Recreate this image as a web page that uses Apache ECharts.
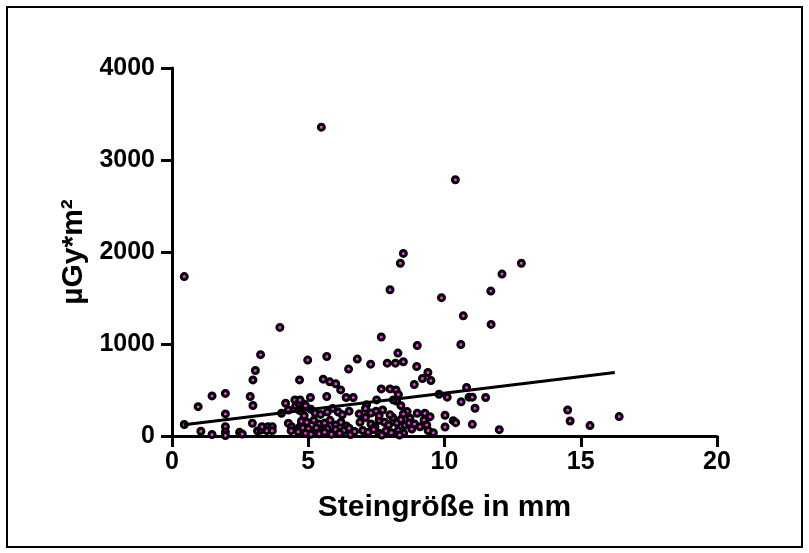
<!DOCTYPE html>
<html>
<head>
<meta charset="utf-8">
<script src="https://cdn.jsdelivr.net/npm/echarts@6/dist/echarts.min.js"></script>
<style>
  html, body { margin: 0; padding: 0; background: #fff; }
  #chartmain { width: 809px; height: 553px; }
</style>
</head>
<body>
<div id="chartmain"></div>
<script>
// stone size (mm) against dose area product (µGy*m²)
var upperPoints = [
	[0.45, 1733], [5.48, 3357], [10.40, 2785], [8.49, 1985], [8.38, 1878], [8.0, 1590],
	[9.89, 1504], [12.82, 1878], [12.11, 1760], [11.70, 1575], [10.69, 1306], [11.71, 1213],
	[10.6, 995], [3.96, 1180], [7.68, 1076], [9.0, 984], [8.29, 901], [5.68, 864],
	[4.98, 825], [6.80, 836], [3.25, 884], [6.48, 727], [7.29, 781], [7.90, 792],
	[8.20, 792], [8.49, 807], [8.98, 755], [3.06, 712], [2.97, 610], [4.68, 610],
	[5.55, 618], [5.79, 589], [6.01, 567], [9.39, 690], [9.19, 625], [9.50, 603],
	[8.89, 560], [6.19, 501], [7.68, 512], [8.0, 512], [8.22, 501], [10.81, 527],
	[9.80, 454], [8.31, 450]
];
var lowerPoints = [
	[0.45, 125], [0.96, 319], [1.06, 52], [1.47, 436], [1.47, 16], [1.96, 463],
	[1.96, 240], [1.96, 100], [1.96, 45], [1.96, 5], [2.48, 40], [2.58, 22],
	[2.87, 429], [2.97, 332], [2.95, 138], [3.14, 54], [3.27, 65], [3.30, 101],
	[3.52, 101], [3.68, 101], [3.48, 58], [3.68, 58], [4.02, 247], [4.17, 356],
	[4.27, 283], [4.51, 392], [4.54, 327], [4.66, 356], [4.66, 283], [4.86, 345],
	[4.27, 138], [4.39, 101], [4.37, 58], [4.70, 101], [4.63, 47], [5.08, 418],
	[5.68, 429], [6.39, 418], [6.65, 418], [7.51, 392], [8.24, 381], [8.12, 392],
	[7.14, 341], [7.73, 283], [7.49, 269], [9.0, 247], [9.28, 247], [9.47, 210],
	[8.63, 265], [8.49, 240], [8.73, 193], [6.87, 240], [9.59, 36], [9.25, 174],
	[9.35, 120], [10.10, 422], [10.90, 422], [11.02, 422], [11.51, 418], [10.61, 371],
	[11.12, 302], [10.02, 225], [10.32, 167], [10.41, 145], [11.02, 127], [10.02, 98],
	[12.01, 69], [14.52, 283], [14.61, 163], [15.34, 113], [16.41, 211]
];
var clusterPoints = [
	[4.7, 392], [4.9, 330], [5.1, 290], [4.75, 270], [5.25, 250], [4.85, 220],
	[5.45, 235], [5.7, 260], [5.9, 300], [6.1, 260], [6.25, 230], [6.5, 270],
	[4.75, 160], [4.95, 150], [5.2, 170], [5.4, 130], [5.6, 140], [5.8, 170],
	[6.0, 120], [6.2, 150], [6.4, 110], [4.8, 90], [5.0, 80], [5.3, 90],
	[5.5, 60], [5.7, 80], [6.0, 70], [6.3, 60], [6.5, 85], [4.9, 30],
	[5.1, 20], [5.4, 25], [5.6, 40], [5.85, 20], [6.15, 30], [6.55, 15],
	[6.7, 50], [6.9, 150], [7.1, 200], [7.3, 130], [7.45, 100], [7.6, 170],
	[7.8, 150], [7.95, 120], [8.1, 200], [8.25, 140], [8.4, 180], [8.55, 120],
	[8.7, 140], [7.0, 60], [7.2, 40], [7.4, 70], [7.6, 30], [7.85, 55],
	[8.05, 35], [8.3, 60], [8.5, 30], [8.8, 75], [8.35, 10], [7.7, 10],
	[7.1, 300], [7.3, 250], [8.0, 230], [7.6, 220], [8.4, 330], [8.9, 130],
	[9.1, 100], [9.4, 60]
];
// regression line end points as drawn
var fitX = [0.44, 16.25];
var fitY = [123, 690];
var xTicks = [0, 5, 10, 15, 20];
var yTicks = [0, 1000, 2000, 3000, 4000];

var points = upperPoints.concat(lowerPoints).concat(clusterPoints);
var fitLine = [];
for (var i = 0; i < fitX.length; i++) {
	fitLine.push([fitX[i], fitY[i]]);
}

var labelFont = {
	color : '#000',
	fontFamily : 'Liberation Sans, Arial, sans-serif',
	fontWeight : 'bold',
	fontSize : 25
};
var nameFont = {
	color : '#000',
	fontFamily : 'Liberation Sans, Arial, sans-serif',
	fontWeight : 'bold',
	fontSize : 30
};
var axisLine = { show : true, lineStyle : { color : '#000', width : 3 } };
var axisTick = { show : true, inside : false, length : 11, lineStyle : { color : '#000', width : 3 } };

var option = {
	animation : false,
	backgroundColor : '#fff',
	grid : {
		left : 172,
		right : 92,
		top : 68,
		bottom : 117
	},
	graphic : [ {
		type : 'rect',
		shape : { x : 7, y : 7, width : 795, height : 540 },
		style : { fill : 'none', stroke : '#000', lineWidth : 2 }
	} ],
	xAxis : {
		type : 'value',
		min : xTicks[0],
		max : xTicks[xTicks.length - 1],
		interval : xTicks[1] - xTicks[0],
		name : 'Steingröße in mm',
		nameLocation : 'middle',
		nameGap : 57,
		nameTextStyle : nameFont,
		axisLine : axisLine,
		axisTick : axisTick,
		axisLabel : Object.assign({ margin : 14, formatter : function(v) { return String(v); } }, labelFont),
		splitLine : { show : false }
	},
	yAxis : {
		type : 'value',
		min : yTicks[0],
		max : yTicks[yTicks.length - 1],
		interval : yTicks[1] - yTicks[0],
		name : 'µGy*m²',
		nameLocation : 'middle',
		nameGap : 70,
		nameTextStyle : nameFont,
		axisLine : axisLine,
		axisTick : axisTick,
		axisLabel : Object.assign({ margin : 17, formatter : function(v) { return String(v); } }, labelFont),
		splitLine : { show : false }
	},
	series : [ {
		type : 'line',
		data : fitLine,
		symbol : 'none',
		lineStyle : { color : '#000', width : 3 },
		z : 3
	}, {
		type : 'scatter',
		data : points,
		symbol : 'circle',
		symbolSize : 6,
		itemStyle : {
			color : '#ff33ee',
			borderColor : '#000',
			borderWidth : 3,
			opacity : 1
		},
		z : 2
	} ]
};

var myChart = echarts.init(document.getElementById('chartmain'));
myChart.setOption(option);
</script>
</body>
</html>
